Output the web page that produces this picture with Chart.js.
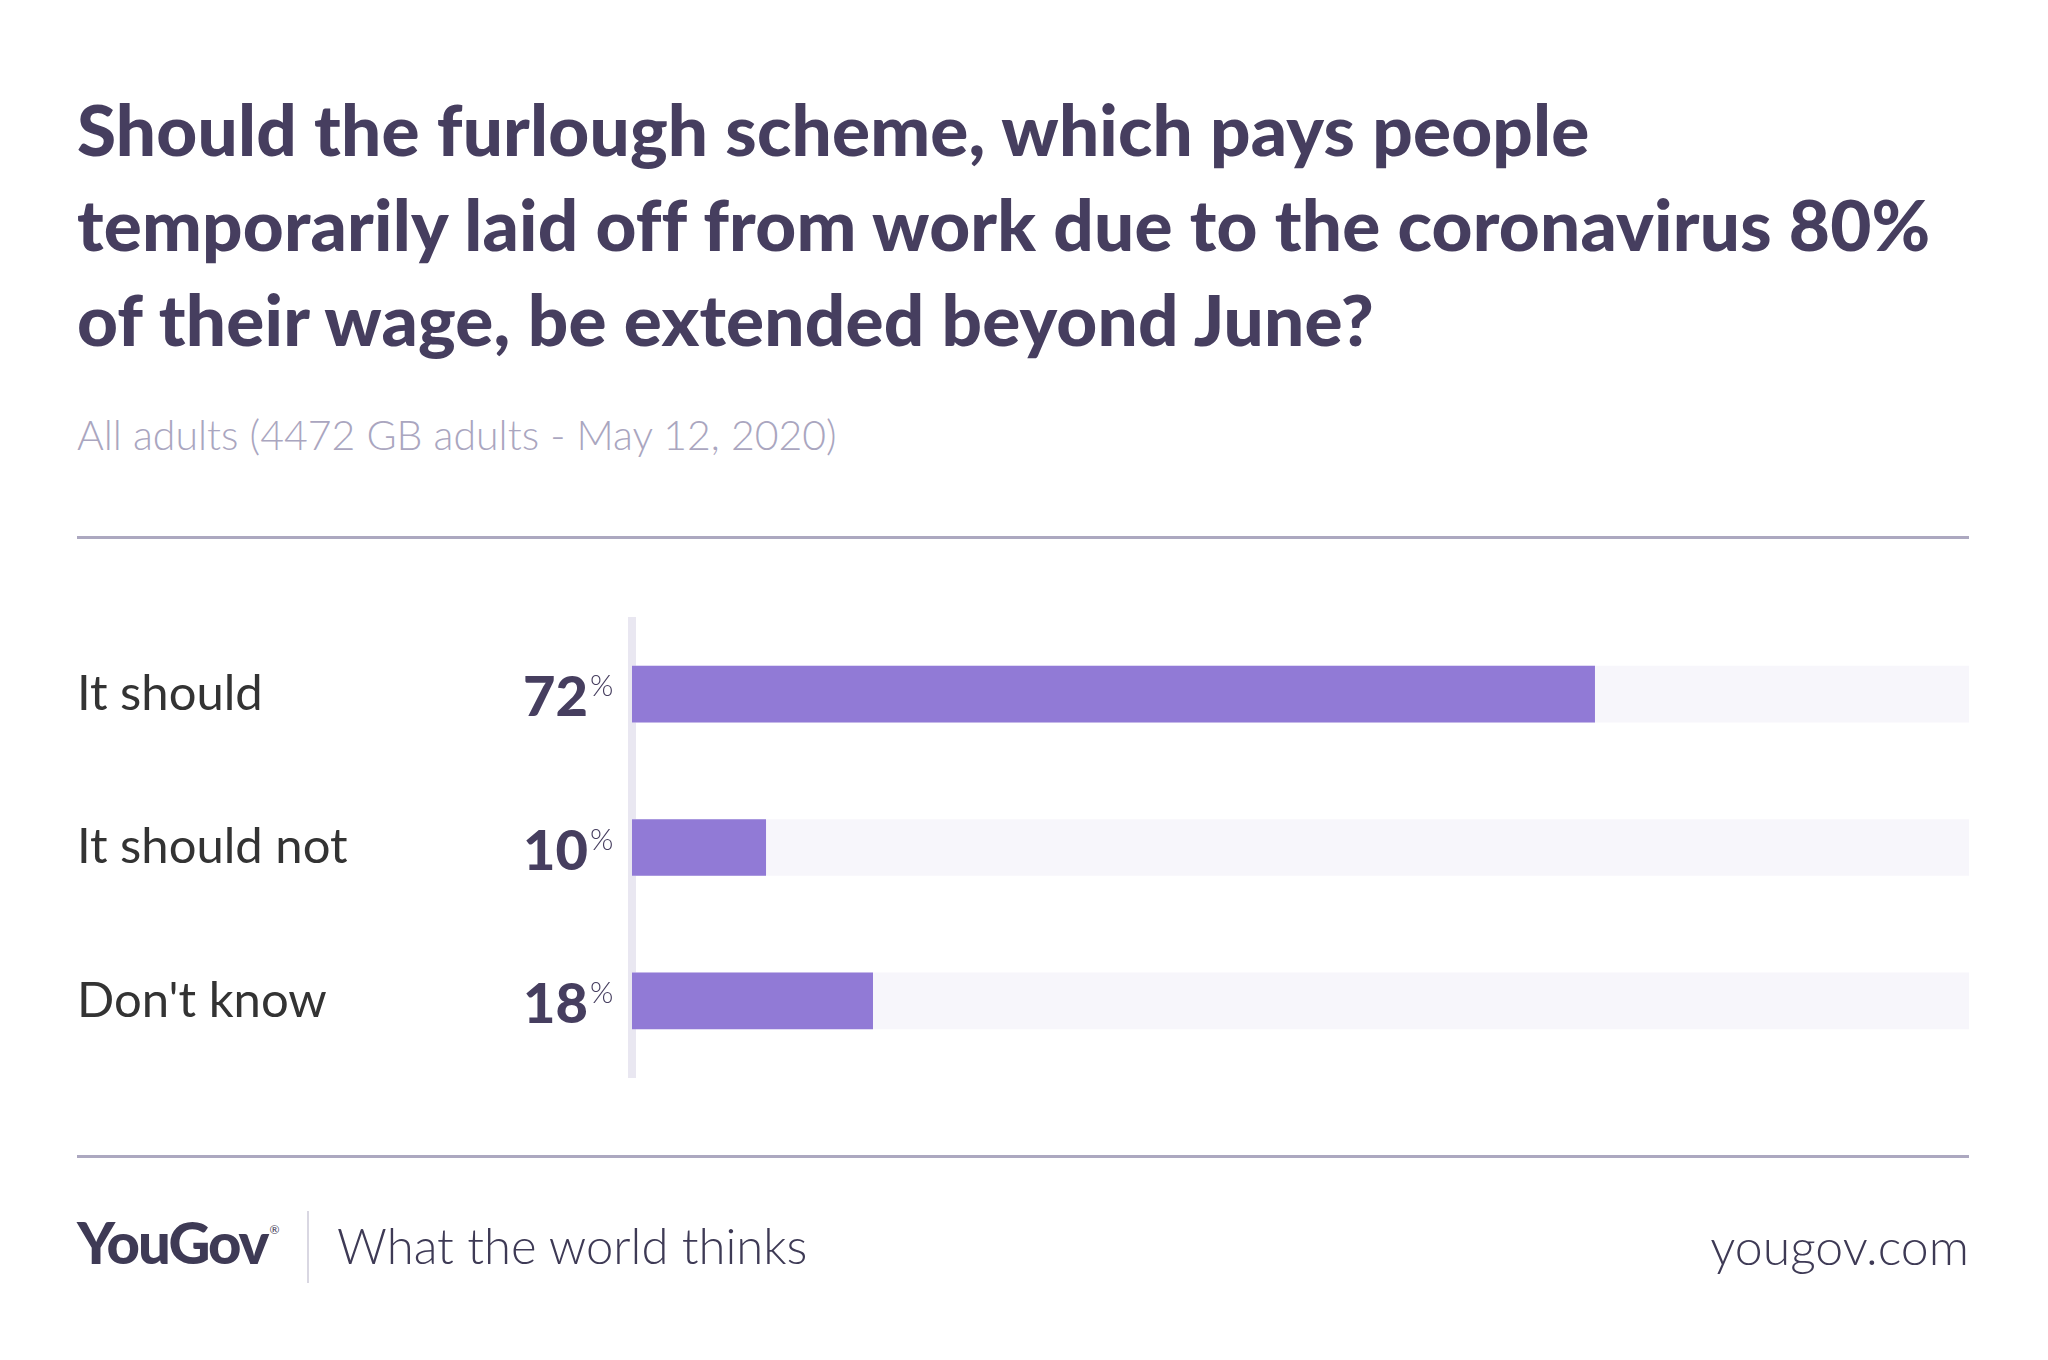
<!DOCTYPE html>
<html>
<head>
<meta charset="utf-8">
<title>Furlough scheme extension</title>
<script src="https://cdn.jsdelivr.net/npm/chart.js@4.4.1/dist/chart.umd.min.js"></script>
<style>
  html, body { margin: 0; padding: 0; background: #fff; }
  body { width: 2048px; height: 1360px; position: relative; overflow: hidden; font-family: Lato, sans-serif; }
  .abs { position: absolute; white-space: nowrap; }
  #title { left: 77px; top: 81px; font-size: 71px; font-weight: 900; line-height: 95px; color: #463e5f; letter-spacing: 0.2px; }
  #subtitle { left: 77px; top: 410px; font-size: 41px; font-weight: 300; line-height: 1.2; color: #aaa6bf; }
  .rule { position: absolute; left: 77px; width: 1892px; height: 3px; background: #aca8c0; }
  #chartBox { position: absolute; left: 0; top: 617px; width: 1969px; height: 461px; }
  #logo { left: 77px; top: 1207px; font-size: 58px; font-weight: 900; line-height: 1.2; color: #3e3a55; letter-spacing: -2px; }
  #logo sup { font-size: 12px; font-weight: 400; letter-spacing: 0; vertical-align: 30px; margin-left: 2px; }
  #divider { position: absolute; left: 307px; top: 1211px; width: 2px; height: 72px; background: #d9d7e2; }
  #tagline { left: 337px; top: 1216px; font-size: 49px; font-weight: 300; line-height: 1.2; color: #3e3a55; }
  #site { right: 79px; top: 1216px; font-size: 50px; font-weight: 300; line-height: 1.2; color: #3e3a55; }
</style>
</head>
<body>
<div id="title" class="abs">Should the furlough scheme, which pays people<br>temporarily laid off from work due to the coronavirus 80%<br>of their wage, be extended beyond June?</div>
<div id="subtitle" class="abs">All adults (4472 GB adults - May 12, 2020)</div>
<div class="rule" style="top:536px"></div>
<div id="chartBox"><canvas id="chart"></canvas></div>
<div class="rule" style="top:1155px"></div>
<div id="logo" class="abs">YouGov<sup>®</sup></div>
<div id="divider"></div>
<div id="tagline" class="abs">What the world thinks</div>
<div id="site" class="abs">yougov.com</div>

<script>
const categories = ['It should', 'It should not', "Don't know"];
const shares = [72, 10, 18];
const fullScale = [100, 100, 100];

// draws "72%" with a small raised percent sign left of the axis
const valueLabels = {
  id: 'valueLabels',
  afterDatasetsDraw(chart) {
    const ctx = chart.ctx;
    const meta = chart.getDatasetMeta(0);
    ctx.save();
    ctx.textBaseline = 'alphabetic';
    ctx.fillStyle = '#463e5f';
    meta.data.forEach((bar, i) => {
      const y = bar.y + 22;
      ctx.font = '900 56px Lato';
      ctx.textAlign = 'right';
      ctx.fillText(String(shares[i]), 588, y);
      ctx.font = '300 30px Lato';
      ctx.textAlign = 'left';
      ctx.fillText('%', 590, y - 20);
    });
    ctx.restore();
  }
};

new Chart(document.getElementById('chart'), {
  type: 'bar',
  data: {
    labels: categories,
    datasets: [
      {
        data: shares,
        backgroundColor: '#917ad6',
        barThickness: 56,
        grouped: false,
        order: 0,
      },
      {
        data: fullScale,
        backgroundColor: '#f7f6fb',
        barThickness: 56,
        grouped: false,
        order: 1,
      },
    ],
  },
  options: {
    indexAxis: 'y',
    responsive: true,
    maintainAspectRatio: false,
    animation: false,
    layout: { padding: { left: 77, right: 0, top: 0, bottom: 0 } },
    plugins: {
      legend: { display: false },
      tooltip: { enabled: false },
    },
    scales: {
      x: { min: 0, max: 100, display: false },
      y: {
        grid: { display: false },
        border: { color: '#e9e7f1', width: 8 },
        ticks: {
          crossAlign: 'far',
          padding: 0,
          color: '#333333',
          font: { family: 'Lato', size: 49, weight: '400', lineHeight: 0.02 },
        },
        afterFit(scale) { scale.width = 555; },
      },
    },
  },
  plugins: [valueLabels],
});
</script>
</body>
</html>
